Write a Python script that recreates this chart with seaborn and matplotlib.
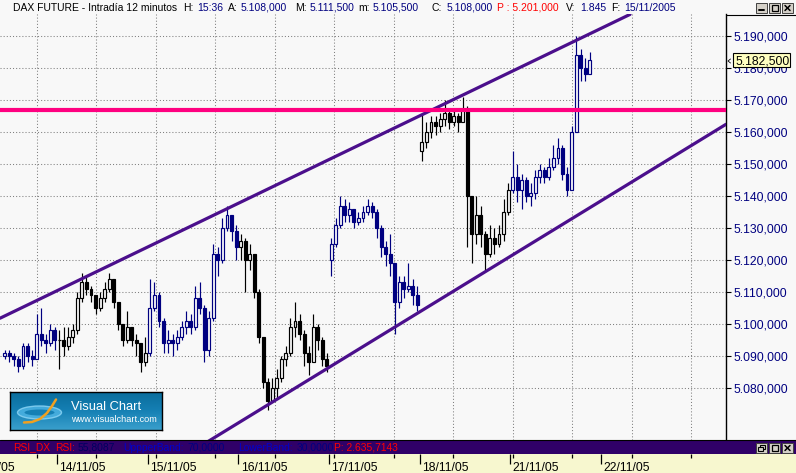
import numpy as np
import pandas as pd
import matplotlib
matplotlib.use("Agg")
import matplotlib.pyplot as plt
import matplotlib.transforms as mtransforms
from matplotlib.patches import Rectangle, Ellipse
from matplotlib.colors import LinearSegmentedColormap
import seaborn as sns

# ---------------- datos ----------------
# sesiones: dia relativo al 14/11 y primer hueco de 12 min visible (20 huecos por dia)
session_day = [-1, 0, 1, 2, 3, 4, 5]
session_first_slot = [8, 0, 0, 0, 0, 0, 0]
session_open = [5090, None, None, None, 5120, 5154, 5142]

close_1111 = [5091, 5090, 5089, 5087, 5093, 5090, 5089, 5097, 5095, 5094, 5098, 5095]
high_1111 = [5092, 5092, 5091, 5090, 5094, 5094, 5092, 5103, 5105, 5097, 5100, 5099]
low_1111 = [5089, 5088, 5087, 5085, 5086, 5088, 5087, 5089, 5093, 5091, 5093, 5092]

close_1411 = [5095, 5093, 5096, 5098, 5108, 5113, 5111, 5109, 5105, 5108,
              5111, 5114, 5107, 5100, 5095, 5099, 5095, 5094, 5088, 5091]
high_1411 = [5098, 5099, 5099, 5100, 5110, 5116, 5115, 5112, 5109, 5110,
             5113, 5116, 5114, 5106, 5099, 5104, 5099, 5097, 5094, 5096]
low_1411 = [5086, 5090, 5092, 5094, 5097, 5107, 5109, 5107, 5103, 5104,
            5107, 5110, 5105, 5098, 5093, 5094, 5093, 5090, 5085, 5087]

close_1511 = [5105, 5109, 5101, 5094, 5095, 5094, 5096, 5099, 5101, 5099,
              5108, 5105, 5092, 5102, 5122, 5120, 5130, 5134, 5129, 5124]
high_1511 = [5114, 5113, 5110, 5102, 5098, 5097, 5098, 5101, 5104, 5103,
             5112, 5113, 5106, 5104, 5125, 5124, 5133, 5137, 5134, 5131]
low_1511 = [5090, 5104, 5099, 5091, 5091, 5090, 5092, 5095, 5097, 5097,
            5098, 5103, 5088, 5090, 5101, 5115, 5119, 5129, 5126, 5120]

close_1611 = [5126, 5120, 5122, 5110, 5096, 5082, 5076, 5080, 5083, 5089,
              5091, 5099, 5101, 5097, 5091, 5088, 5099, 5095, 5089, 5087]
high_1611 = [5128, 5127, 5125, 5122, 5111, 5096, 5083, 5083, 5086, 5090,
             5093, 5102, 5107, 5103, 5098, 5093, 5103, 5100, 5096, 5091]
low_1611 = [5120, 5110, 5117, 5108, 5094, 5080, 5073, 5076, 5077, 5082,
            5087, 5090, 5096, 5095, 5087, 5084, 5088, 5092, 5087, 5085]

close_1711 = [5125, 5131, 5137, 5134, 5136, 5132, 5133, 5135, 5137, 5135,
              5130, 5124, 5122, 5119, 5107, 5113, 5111, 5112, 5109, 5106]
high_1711 = [5127, 5133, 5140, 5139, 5138, 5136, 5135, 5137, 5139, 5138,
             5136, 5131, 5126, 5128, 5119, 5115, 5115, 5119, 5114, 5112]
low_1711 = [5115, 5124, 5130, 5132, 5132, 5130, 5131, 5132, 5134, 5133,
            5127, 5121, 5118, 5115, 5097, 5105, 5108, 5110, 5106, 5104]

close_1811 = [5157, 5160, 5163, 5162, 5164, 5166, 5163, 5165, 5163, 5167,
              5140, 5128, 5134, 5128, 5122, 5127, 5125, 5128, 5135, 5142]
high_1811 = [5166, 5163, 5165, 5165, 5166, 5170, 5167, 5167, 5166, 5171,
             5168, 5140, 5140, 5137, 5129, 5131, 5130, 5131, 5139, 5144]
low_1811 = [5151, 5155, 5158, 5159, 5160, 5162, 5161, 5162, 5160, 5163,
            5124, 5119, 5125, 5124, 5117, 5121, 5122, 5124, 5126, 5134]

close_2111 = [5146, 5142, 5145, 5140, 5141, 5146, 5148, 5146, 5149, 5152,
              5155, 5147, 5142, 5160, 5184, 5180, 5178, 5182.5]
high_2111 = [5154, 5150, 5147, 5146, 5144, 5148, 5150, 5149, 5152, 5156,
             5158, 5156, 5149, 5162, 5190, 5186, 5183, 5185]
low_2111 = [5141, 5138, 5136, 5138, 5137, 5139, 5144, 5144, 5145, 5148,
            5150, 5145, 5140, 5142, 5160, 5176, 5176, 5179]

closes = [close_1111, close_1411, close_1511, close_1611, close_1711, close_1811, close_2111]
highs = [high_1111, high_1411, high_1511, high_1611, high_1711, high_1811, high_2111]
lows = [low_1111, low_1411, low_1511, low_1611, low_1711, low_1811, low_2111]

day_ticks = [-1, 0, 1, 2, 3, 4, 5, 6]
day_labels = ["11/11/05", "14/11/05", "15/11/05", "16/11/05", "17/11/05",
              "18/11/05", "21/11/05", "22/11/05"]

price_ticks = [5080, 5090, 5100, 5110, 5120, 5130, 5140, 5150, 5160, 5170, 5180, 5190]

# canal alcista (extremos de las dos rectas) y resistencia horizontal
channel_up_t = [-0.629, 6.320]
channel_up_p = [5101.8, 5196.75]
channel_dn_t = [1.632, 7.378]
channel_dn_p = [5062.7, 5162.4]
resistance = 5167.0
last_price = 5182.5

# rejilla vertical de la plataforma (cada ~0.656 dias)
grid_t = [-0.2206 + 0.6562 * k for k in range(12)]

# ---------------- tabla de velas ----------------
rows = []
prev = None
for d, first, op, cl, hi, lo in zip(session_day, session_first_slot, session_open, closes, highs, lows):
    for j, (c, h, l) in enumerate(zip(cl, hi, lo)):
        o = op if (j == 0 and op is not None) else prev
        rows.append(dict(t=d + (first + j + 0.5) / 20.0, open=o, close=c,
                         high=max(h, o, c), low=min(l, o, c),
                         color="#000080" if d % 2 else "#000000"))
        prev = c
df = pd.DataFrame(rows)

# ---------------- figura ----------------
sns.set_theme(style="white")
plt.rcParams["font.family"] = ["Liberation Sans", "DejaVu Sans"]

W, H = 796, 473
BG = "#f8f8f8"
fig = plt.figure(figsize=(W / 100, H / 100), dpi=100, facecolor=BG)

x_left, x_right = -57 / 90.67, (726 - 57) / 90.67
ax = fig.add_axes([0, 33 / H, 726 / W, 426 / H], facecolor=BG)

ax.set_yticks(price_ticks)
ax.set_yticklabels([f"{p:,.3f}".replace(",", "#").replace(".", ",").replace("#", ".") for p in price_ticks])
ax.yaxis.tick_right()
ax.tick_params(axis="y", which="major", direction="out", length=3.6, width=0.8,
               color="black", labelcolor="#000080", labelsize=8.7, pad=1.5, right=True, left=False)
ax.set_xticks(grid_t)
ax.tick_params(axis="x", length=0, labelbottom=False)
ax.grid(True, ls=(0, (1, 2)), color="#808080", lw=0.75, zorder=0)
for s in ["top", "left", "bottom"]:
    ax.spines[s].set_visible(False)
ax.spines["right"].set_color("black")
ax.spines["right"].set_linewidth(1.0)

# velas
bw = 0.032
up = df[df["close"] >= df["open"]]
dn = df[df["close"] < df["open"]]
ax.vlines(df["t"], df["low"], df["high"], colors=df["color"], lw=0.85, zorder=2)
ax.bar(up["t"], up["close"] - up["open"], bottom=up["open"], width=bw,
       facecolor=BG, edgecolor=up["color"], lw=0.85, zorder=2.5)
ax.bar(dn["t"], dn["open"] - dn["close"], bottom=dn["close"], width=bw,
       facecolor=dn["color"], edgecolor=dn["color"], lw=0.85, zorder=2.5)

# canal y resistencia
sns.lineplot(x=channel_up_t, y=channel_up_p, ax=ax, color="#4b0f8c", lw=2.3, zorder=3)
sns.lineplot(x=channel_dn_t, y=channel_dn_p, ax=ax, color="#4b0f8c", lw=2.3, zorder=3)
ax.axhline(resistance, color="#ff0080", lw=3.0, zorder=3)
ax.set_xlabel("")
ax.set_ylabel("")
ax.set_xlim(x_left, x_right)
ax.set_ylim(5063.75, 5196.875)

# eje de fechas
axd = fig.add_axes([0, 0, 1, 19 / H], facecolor="#f7f7cf")
for s in axd.spines.values():
    s.set_visible(False)
axd.set_yticks([])
axd.set_xticks(day_ticks)
axd.set_xticks(grid_t, minor=True)
axd.xaxis.set_ticks_position("top")
axd.tick_params(axis="x", which="major", direction="in", length=7.5, width=0.9, color="black",
                labeltop=False, labelbottom=False)
axd.tick_params(axis="x", which="minor", direction="in", length=3.0, width=0.9, color="black")
axd.set_xlim(x_left, (W - 57) / 90.67)
axd.set_ylim(0, 1)
lab_tr = mtransforms.offset_copy(axd.get_xaxis_transform(), fig=fig, x=2.5, y=0, units="dots")
for t, lab in zip(day_ticks, day_labels):
    axd.text(t, 2 / 19, lab, transform=lab_tr, ha="left", va="baseline", fontsize=8.7,
             color="black", clip_on=False)

# capa de anotaciones en pixeles
ov = fig.add_axes([0, 0, 1, 1])
ov.set_xlim(0, W)
ov.set_ylim(H, 0)
ov.axis("off")
ov.patch.set_alpha(0)

navy, red = "#000080", "#ff0000"
title_parts = [(13, "DAX FUTURE - Intradía 12 minutos", "black"), (183, "H:", "black"), (197, "15:36", navy),
               (228, "A:", "black"), (241, "5.108,000", navy), (295, "M:", "black"), (310, "5.111,500", navy),
               (358, "m:", "black"), (373, "5.105,500", navy), (432, "C:", "black"), (447, "5.108,000", navy),
               (497, "P : 5.201,000", red), (566, "V:", "black"), (580, "1.845", navy),
               (611, "F:", "black"), (624, "15/11/2005", navy)]
for x, s, c in title_parts:
    ov.text(x, 11, s, color=c, fontsize=7.5, ha="left", va="baseline")

# borde del panel de precios
ov.plot([725.5, W], [15, 15], color="black", lw=0.8)

# etiqueta del ultimo precio
ov.add_patch(Rectangle((732.5, 53.5), 57, 14, facecolor="#ffffc0", edgecolor="black", lw=0.8))
ov.text(735, 61, "5.182,500", fontsize=8.7, color="black", ha="left", va="center")
ov.plot([730.5, 728, 730.5], [59, 61, 63], color="black", lw=0.6)

# botones de ventana
def window_buttons(y0, restore=False):
    for x0 in [756, 769, 782]:
        ov.add_patch(Rectangle((x0, y0), 11, 10, facecolor="#d4d0c8", edgecolor="#404040", lw=0.7))
    cx = 756
    if restore:
        ov.add_patch(Rectangle((cx + 4, y0 + 2), 5, 4, facecolor="none", edgecolor="black", lw=0.8))
        ov.add_patch(Rectangle((cx + 2, y0 + 4), 5, 4, facecolor="#d4d0c8", edgecolor="black", lw=0.8))
    else:
        ov.plot([cx + 3, cx + 8], [y0 + 7.5, y0 + 7.5], color="black", lw=1.4)
    ov.add_patch(Rectangle((769 + 2.5, y0 + 2), 6, 6, facecolor="none", edgecolor="black", lw=0.9))
    ov.plot([782 + 3, 782 + 8], [y0 + 2.5, y0 + 7.5], color="black", lw=1.1)
    ov.plot([782 + 3, 782 + 8], [y0 + 7.5, y0 + 2.5], color="black", lw=1.1)

window_buttons(3)

# barra del RSI
ov.add_patch(Rectangle((0, 440), W, 14, facecolor="#300068", edgecolor="none"))
ov.plot([0, W], [440.3, 440.3], color="black", lw=0.8)
rsi_parts = [(13, "RSI_DX", red), (55, "RSI:", red), (78, "55,8087", "#000060"),
             (123, "UppperBand:", "#0000cc"), (187, "70,0000", "#000080"),
             (238, "LowerBand:", "#0000cc"), (297, "30,0000", "#000080"), (334, "P: 2.635,7143", red)]
for x, s, c in rsi_parts:
    ov.text(x, 450.5, s, color=c, fontsize=7.4, ha="left", va="baseline")
window_buttons(443, restore=True)

# logotipo
axl = fig.add_axes([10 / W, (H - 430) / H, 152 / W, 38 / H])
grad = LinearSegmentedColormap.from_list("vc", ["#0a6c9b", "#1580b4", "#3a9fcc"])
axl.imshow(np.linspace(0, 1, 64).reshape(-1, 1), cmap=grad, aspect="auto",
           extent=[0, 152, 38, 0])
axl.set_xlim(0, 152)
axl.set_ylim(38, 0)
axl.set_xticks([])
axl.set_yticks([])
for s in axl.spines.values():
    s.set_color("black")
    s.set_linewidth(1.0)
axl.add_patch(Ellipse((29.5, 20.5), 44, 13, facecolor="#4fb6e6", edgecolor="#8fd6f6", lw=1.0, alpha=0.8))
axl.add_patch(Ellipse((29.5, 20.5), 30, 6, facecolor="#1580b4", edgecolor="none"))
axl.plot([14, 22, 30, 37, 42, 46], [30.5, 30, 27, 21, 14, 7.5], color="#f0a020", lw=1.8, solid_capstyle="round")
axl.text(61, 17.5, "Visual Chart", color="white", fontsize=9.3, ha="left", va="baseline")
axl.text(61, 29.5, "www.visualchart.com", color="white", fontsize=6.6, ha="left", va="baseline")

fig.savefig("out.png", dpi=100, facecolor=BG)
